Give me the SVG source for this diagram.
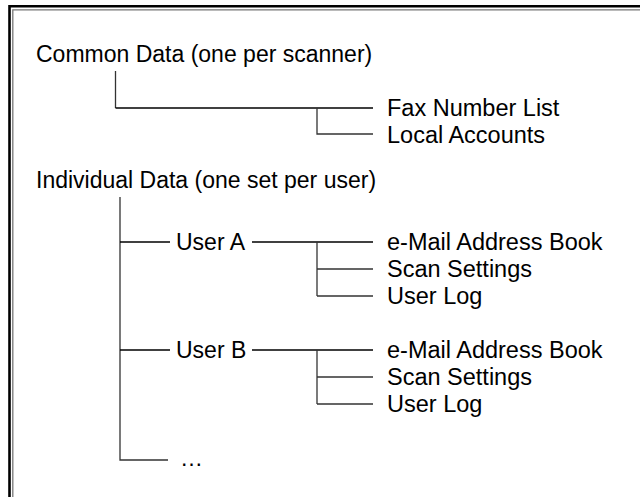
<svg xmlns="http://www.w3.org/2000/svg" width="640" height="497" viewBox="0 0 640 497">
<style>
text{font-family:"Liberation Sans",Arial,sans-serif;font-size:23px;fill:#000}
.r{font-size:23.5px}
.m{stroke:#000;stroke-width:1.7;fill:none}
.s{stroke:#333;stroke-width:1.3;fill:none}
</style>
<rect width="640" height="497" fill="#fff"/>
<g id="frame">
<path d="M9.5 497V6.2H640" stroke="#000" stroke-width="2.6" fill="none"/>
<path d="M12.8 497V9.8H640" stroke="#777" stroke-width="1.3" fill="none"/>
</g>
<g id="connectors">
<path class="s" d="M115.5 71V108"/>
<path class="m" d="M115.5 108H373"/>
<path class="s" d="M317 108V134H373"/>
<path class="s" d="M120 197V460H168"/>
<path class="m" d="M120 242H170"/>
<path class="m" d="M252 242H373"/>
<path class="s" d="M317 242V296"/>
<path class="s" d="M317 269H373M317 296H373"/>
<path class="m" d="M120 350H170"/>
<path class="m" d="M252 350H373"/>
<path class="s" d="M317 350V404"/>
<path class="s" d="M317 377H373M317 404H373"/>
</g>
<g id="common"><text x="36" y="62">Common Data (one per scanner)</text></g>
<g id="fax"><text class="r" x="387" y="116">Fax Number List</text></g>
<g id="local"><text class="r" x="387" y="143">Local Accounts</text></g>
<g id="individual"><text x="36" y="188">Individual Data (one set per user)</text></g>
<g id="userA"><text x="176" y="250">User A</text></g>
<g id="a-mail"><text class="r" x="387" y="250">e-Mail Address Book</text></g>
<g id="a-scan"><text class="r" x="387" y="277">Scan Settings</text></g>
<g id="a-log"><text class="r" x="387" y="304">User Log</text></g>
<g id="userB"><text x="176" y="358">User B</text></g>
<g id="b-mail"><text class="r" x="387" y="358">e-Mail Address Book</text></g>
<g id="b-scan"><text class="r" x="387" y="385">Scan Settings</text></g>
<g id="b-log"><text class="r" x="387" y="412">User Log</text></g>
<g id="more"><text x="180" y="466">…</text></g>
</svg>
